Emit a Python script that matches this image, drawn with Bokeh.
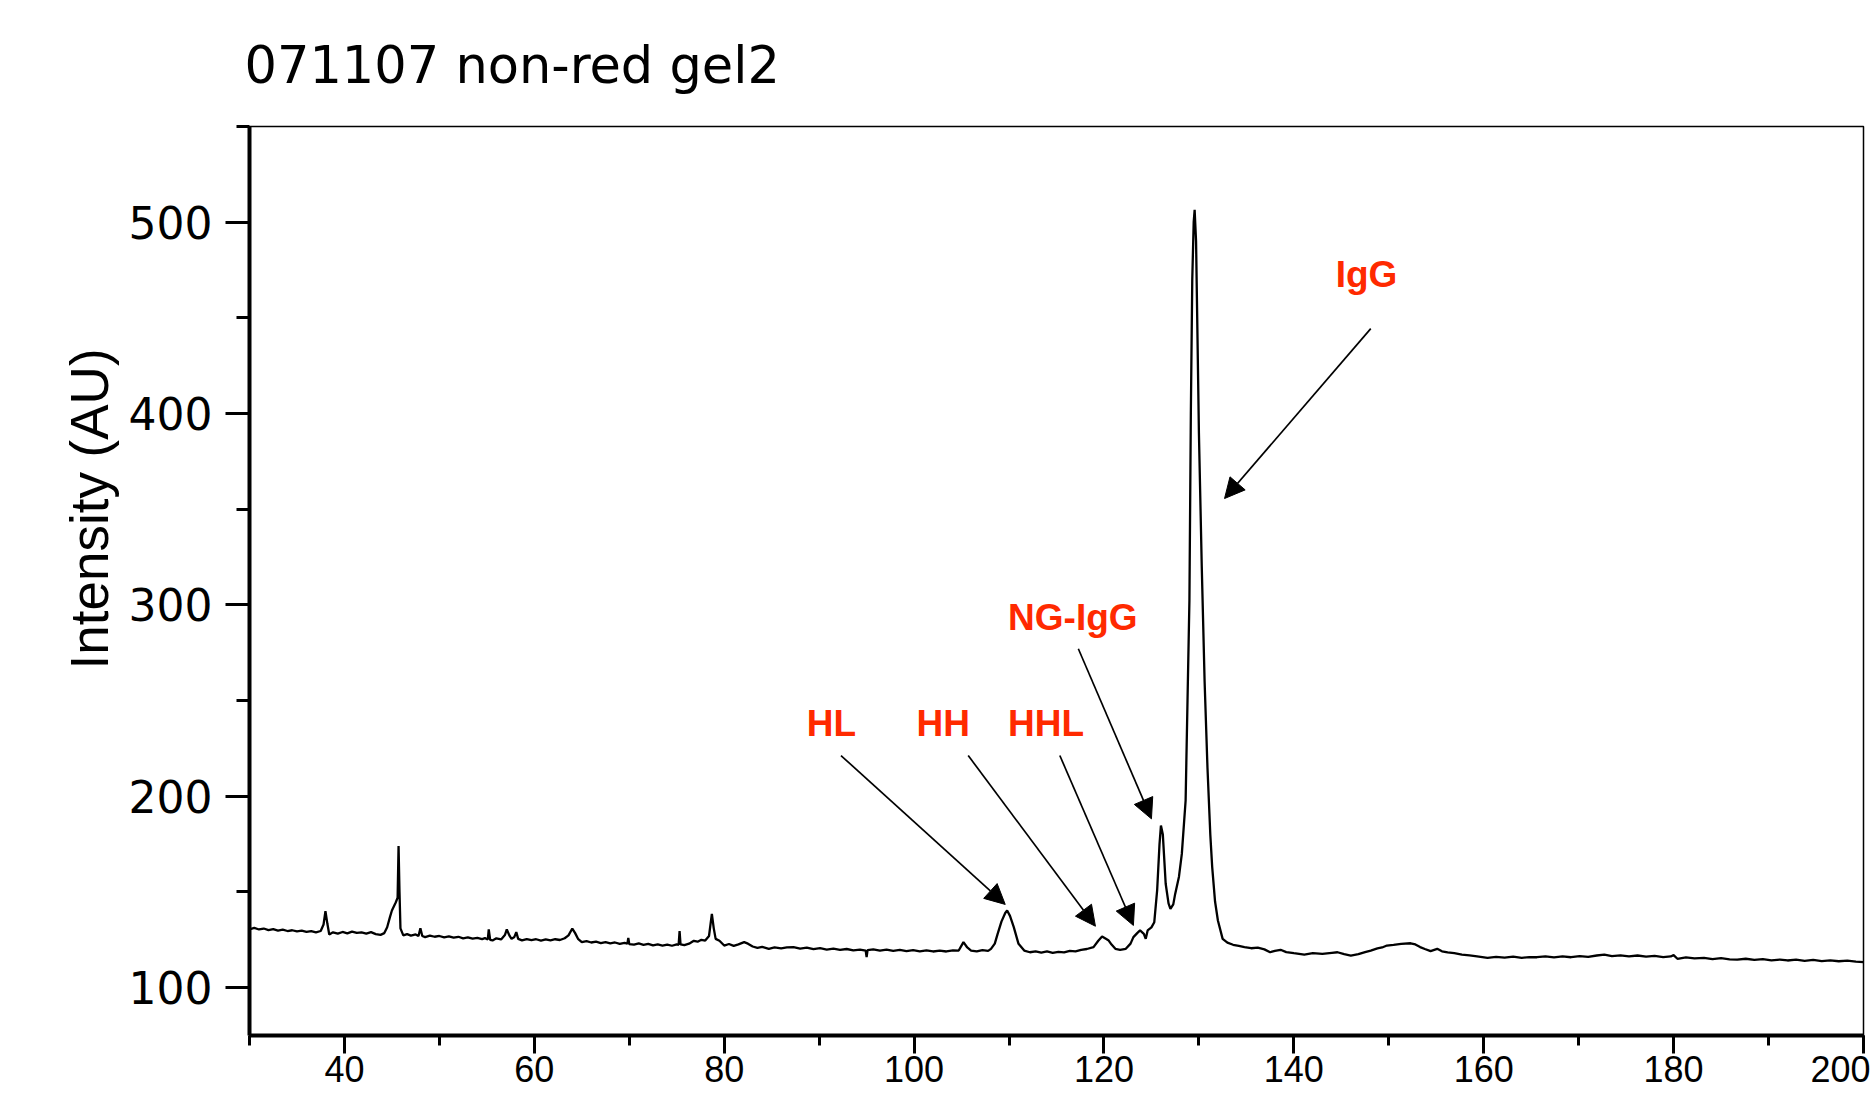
from bokeh.plotting import figure
from bokeh.models import (Range1d, SingleIntervalTicker, Label, Arrow, NormalHead, Title)
from bokeh.embed import file_html
from bokeh.resources import INLINE

# ---- data ----
mass_kda = [
    30.0, 30.5, 31.0, 31.5, 32.0, 32.5, 33.0, 33.5, 34.0, 34.5, 35.0, 35.5, 36.0, 36.5, 37.0, 37.5,
    37.8, 38.0, 38.2, 38.4, 38.8, 39.3, 39.8, 40.3, 40.8, 41.3, 41.8, 42.3, 42.8, 43.3, 43.8, 44.2,
    44.5, 44.8, 45.0, 45.4, 45.6, 45.7, 45.8, 45.9, 46.2, 46.6, 47.0, 47.5, 47.8, 48.0, 48.2, 48.5,
    49.0, 49.5, 50.0, 50.5, 51.0, 51.5, 52.0, 52.5, 53.0, 53.5, 54.0, 54.5, 54.8, 55.1, 55.2, 55.35,
    55.6, 56.0, 56.5, 56.9, 57.1, 57.4, 57.6, 57.9, 58.1, 58.3, 58.7, 59.2, 59.7, 60.2, 60.7, 61.2,
    61.7, 62.2, 62.7, 63.2, 63.6, 64.0, 64.3, 64.6, 65.0, 65.5, 66.0, 66.5, 67.0, 67.5, 68.0, 68.5,
    69.0, 69.5, 69.8, 69.9, 70.0, 70.5, 71.0, 71.5, 72.0, 72.5, 73.0, 73.5, 74.0, 74.5, 75.0, 75.2,
    75.3, 75.4, 75.8, 76.3, 76.8, 77.2, 77.6, 78.0, 78.4, 78.7, 78.9, 79.1, 79.5, 80.0, 80.5, 81.0,
    81.5, 82.1, 82.5, 83.0, 83.5, 84.0, 84.7, 85.3, 86.0, 86.6, 87.3, 88.0, 88.7, 89.4, 90.1, 90.8,
    91.5, 92.2, 92.9, 93.6, 94.3, 94.9, 95.0, 95.1, 95.7, 96.4, 97.1, 97.8, 98.5, 99.2, 99.9, 100.6,
    101.3, 102.0, 102.7, 103.4, 104.1, 104.7, 105.2, 105.6, 106.0, 106.6, 107.2, 107.8, 108.1, 108.5,
    108.8, 109.2, 109.6, 109.8, 110.1, 110.5, 111.0, 111.6, 112.2, 112.8, 113.4, 114.0, 114.6, 115.2,
    115.8, 116.4, 117.0, 117.6, 118.2, 118.9, 119.4, 119.8, 120.2, 120.5, 120.8, 121.2, 121.7, 122.3,
    122.8, 123.1, 123.5, 123.8, 124.2, 124.4, 124.6, 125.0, 125.3, 125.6, 125.85, 126.0, 126.2, 126.5,
    126.8, 127.0, 127.3, 127.5, 127.9, 128.2, 128.6, 128.8, 129.0, 129.15, 129.3, 129.45, 129.55,
    129.7, 129.85, 130.0, 130.3, 130.6, 130.9, 131.2, 131.4, 131.7, 132.0, 132.5, 133.0, 133.6,
    134.2, 134.8, 135.5, 136.2, 136.9, 137.5, 138.0, 138.6, 139.2, 140.0, 141.1, 142.0, 143.0, 144.0,
    144.6, 145.3, 146.0, 146.8, 147.5, 148.1, 148.8, 149.3, 149.8, 150.5, 151.3, 152.3, 152.8, 153.3,
    153.8, 154.4, 155.1, 155.6, 156.2, 156.9, 157.7, 158.5, 159.3, 160.4, 161.3, 162.2, 163.1, 164.0,
    164.8, 165.6, 166.5, 167.4, 168.3, 169.2, 170.1, 171.0, 171.9, 172.7, 173.5, 174.4, 175.3, 176.2,
    177.1, 178.0, 178.9, 179.7, 180.0, 180.4, 181.3, 182.2, 183.2, 184.1, 185.0, 185.9, 186.7, 187.6,
    188.5, 189.4, 190.3, 191.2, 192.0, 192.9, 193.8, 194.7, 195.6, 196.5, 197.4, 198.3, 199.2, 200.0,
]
intensity = [
    130.5, 131.2, 130.4, 130.9, 130.1, 130.6, 129.8, 130.3, 129.6, 130.0, 129.4, 129.8, 129.1, 129.5, 128.9, 129.6,
    133.0, 140.0, 133.5, 127.8, 128.9, 128.2, 129.1, 128.4, 129.3, 128.6, 128.9, 128.2, 129.0, 128.0, 127.6, 128.5,
    131.6, 137.0, 140.3, 144.5, 147.0, 174.0, 150.0, 131.0, 127.3, 128.0, 127.2, 127.8, 127.0, 131.0, 127.0, 126.4,
    127.2, 126.6, 127.0, 126.3, 126.8, 126.1, 126.6, 125.8, 126.3, 125.6, 126.0, 125.4, 125.9, 125.2, 130.5, 125.0,
    124.7, 125.8, 125.2, 127.5, 130.4, 127.0, 125.5, 126.5, 129.0, 125.5, 124.7, 125.4, 124.8, 125.3, 124.6, 125.2,
    124.7, 125.3, 124.9, 125.8, 127.3, 130.9, 128.5, 125.5, 123.8, 124.3, 123.6, 124.0, 123.3, 123.8, 123.1, 123.6,
    122.9, 123.4, 123.0, 126.0, 122.8, 122.5, 123.1, 122.4, 122.9, 122.1, 122.6, 122.0, 122.5, 121.9, 122.6, 122.4,
    129.5, 122.6, 122.2, 123.0, 124.5, 124.0, 125.0, 124.6, 127.0, 138.6, 131.0, 125.5, 124.5, 122.0, 122.8, 121.8,
    122.6, 123.8, 123.0, 121.5, 120.8, 121.3, 120.3, 121.0, 120.5, 121.0, 121.2, 120.4, 120.9, 120.1, 120.6, 119.9,
    120.4, 119.7, 120.2, 119.5, 119.9, 119.4, 116.0, 119.6, 120.0, 119.3, 119.9, 119.2, 119.7, 119.1, 119.6, 119.0,
    119.5, 118.9, 119.4, 118.9, 119.5, 119.4, 123.8, 121.0, 119.4, 118.9, 119.6, 119.2, 120.3, 123.0,
    128.1, 134.5, 139.0, 140.3, 137.5, 131.6, 122.9, 119.4, 118.5, 119.0, 118.3, 118.9, 118.2, 118.7,
    118.4, 119.2, 119.0, 119.8, 120.2, 121.2, 124.5, 126.7, 125.5, 124.6, 122.5, 120.3, 119.8, 120.3,
    123.0, 126.4, 128.5, 129.9, 128.1, 125.5, 129.9, 131.5, 134.2, 150.8, 175.0, 184.7, 180.0, 154.3,
    144.0, 141.2, 143.5, 149.0, 158.0, 169.9, 197.8, 250.1, 302.3, 400.0, 470.0, 500.0, 506.5,
    490.0, 440.0, 390.0, 320.0, 260.0, 215.2, 180.0, 163.0, 145.0, 135.1, 125.5, 123.5, 122.4,
    121.8, 121.2, 120.6, 120.9, 120.0, 118.5, 119.2, 119.8, 118.6, 118.0, 117.3, 118.0, 117.6, 118.2,
    118.5, 117.5, 116.8, 117.5, 118.6, 119.4, 120.5, 121.0, 122.0, 122.4, 122.9, 123.2, 122.6, 121.2,
    120.2, 119.1, 120.3, 119.0, 118.4, 118.0, 117.3, 116.9, 116.4, 115.6, 116.1, 115.7, 116.2, 115.6,
    116.0, 115.9, 116.4, 115.8, 116.3, 115.9, 116.5, 116.1, 116.8, 117.3, 116.5, 116.9, 116.3, 116.8,
    116.2, 116.6, 116.0, 116.3, 117.0, 115.1, 115.8, 115.3, 115.6, 114.9, 115.4, 114.8, 114.6, 115.1,
    114.5, 114.9, 114.3, 114.7, 114.2, 114.6, 114.0, 114.5, 113.9, 114.3, 113.8, 114.1, 113.6, 113.3,
]

# annotation labels (data coordinates)
ann_text = ["IgG", "NG-IgG", "HL", "HH", "HHL"]
ann_x = [144.4, 109.9, 88.7, 100.25, 109.9]
ann_y = [472.5, 293.6, 238.0, 238.0, 238.0]
arrow_x0 = [148.1, 117.3, 92.3, 105.7, 115.35]
arrow_y0 = [444.4, 277.1, 221.3, 221.3, 221.3]
arrow_x1 = [132.7, 125.0, 109.6, 119.1, 123.1]
arrow_y1 = [355.6, 188.2, 143.5, 132.1, 132.5]

title_text = "071107 non-red gel2"
y_title = "Intensity (AU)"

p = figure(width=1870, height=1094, output_backend="svg", toolbar_location=None,
           x_range=Range1d(30, 200), y_range=Range1d(75, 550),
           min_border_left=249, min_border_right=7, min_border_top=126, min_border_bottom=59)
p.background_fill_color = "white"
p.border_fill_color = "white"
p.outline_line_color = "black"
p.outline_line_width = 1.5
p.xgrid.visible = False
p.ygrid.visible = False

p.title.text = title_text
p.title.text_font = "DejaVu Sans"
p.title.text_font_size = "51px"
p.title.text_font_style = "normal"
p.title.text_color = "black"
p.title.align = "left"
p.title.offset = -5
p.title.standoff = 64

p.add_layout(Title(text=y_title, text_font="Liberation Sans", text_font_size="53px",
                   text_font_style="normal", text_color="black", align="left",
                   offset=366, standoff=14), "left")

p.line(mass_kda, intensity, line_color="black", line_width=2.3)

for ax in (p.xaxis[0], p.yaxis[0]):
    ax.axis_line_width = 4
    ax.axis_line_color = "black"
    ax.major_tick_line_width = 3
    ax.minor_tick_line_width = 3
    ax.major_tick_in = 0
    ax.minor_tick_in = 0
    ax.major_label_text_color = "black"

p.xaxis[0].ticker = SingleIntervalTicker(interval=20, num_minor_ticks=2)
p.xaxis[0].major_tick_out = 18
p.xaxis[0].minor_tick_out = 10
p.xaxis[0].major_label_text_font = "Liberation Sans"
p.xaxis[0].major_label_text_font_size = "36px"
p.xaxis[0].major_label_standoff = 2

p.yaxis[0].ticker = SingleIntervalTicker(interval=100, num_minor_ticks=2)
p.yaxis[0].major_tick_out = 24
p.yaxis[0].minor_tick_out = 13
p.yaxis[0].major_label_text_font = "DejaVu Sans"
p.yaxis[0].major_label_text_font_size = "44px"
p.yaxis[0].major_label_standoff = 13

red = "#FF2A00"
for t, x, y in zip(ann_text, ann_x, ann_y):
    p.add_layout(Label(x=x, y=y, text=t, text_font="Liberation Sans", text_font_style="bold",
                       text_font_size="37px", text_color=red, text_baseline="alphabetic",
                       text_align="left"))
for x0, y0, x1, y1 in zip(arrow_x0, arrow_y0, arrow_x1, arrow_y1):
    p.add_layout(Arrow(x_start=x0, y_start=y0, x_end=x1, y_end=y1, line_width=1.7,
                       line_color="black",
                       end=NormalHead(size=20, fill_color="black", line_color="black", line_width=1)))

open("out.html", "w").write(file_html(p, INLINE))
